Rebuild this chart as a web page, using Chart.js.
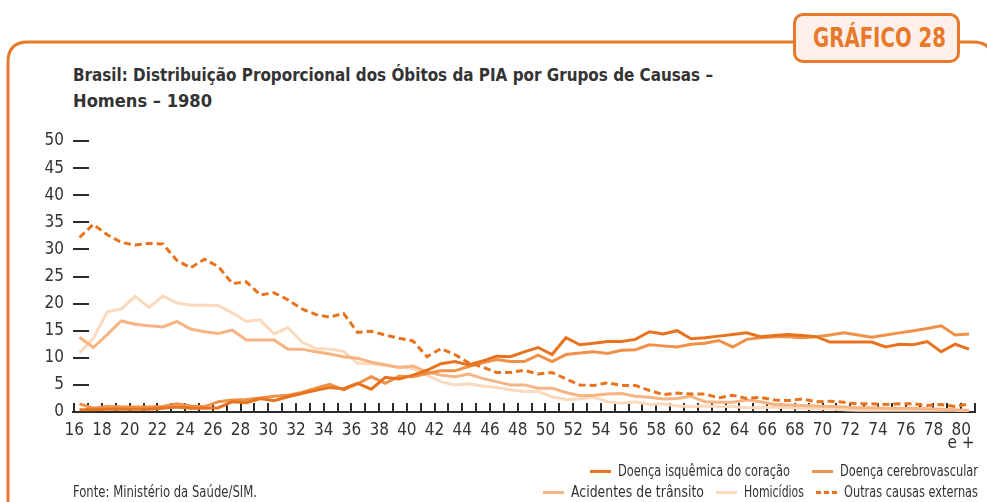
<!DOCTYPE html>
<html>
<head>
<meta charset="utf-8">
<script src="https://cdn.jsdelivr.net/npm/chart.js@4/dist/chart.umd.min.js"></script>
<style>
  html, body { margin:0; padding:0; background:#fff; }
  #wrap { position:relative; width:987px; height:502px; overflow:hidden; font-family:"DejaVu Sans Condensed","Liberation Sans Narrow",sans-serif; color:#333; }
  #frame { position:absolute; left:0; top:0; }
  #chartBox { position:absolute; left:0; top:0; width:987px; height:502px; }
  #badge { position:absolute; left:793px; top:13px; width:161px; height:44px; border:3px solid #e8782a; border-radius:10px; background:#fdf0ea; }
  #badgeText { position:absolute; left:17px; top:0; line-height:44px; color:#e8782a; font-weight:bold; font-size:27px; }
  .tline { position:absolute; left:73px; font-weight:bold; font-size:18px; line-height:22px; color:#333; }
  #fonte { position:absolute; left:73px; top:483px; font-size:15px; line-height:18px; color:#333; }
  .lrow { position:absolute; right:9px; display:flex; align-items:center; font-size:15px; line-height:18px; white-space:nowrap; }
  .item { display:flex; align-items:center; }
  .sw { width:21px; height:3px; margin-right:7px; }
  .fitOuter { display:inline-block; overflow:visible; white-space:nowrap; }
  .fitInner { display:inline-block; white-space:nowrap; transform-origin:left center; }
</style>
</head>
<body>
<div id="wrap">
  <svg id="frame" width="987" height="502">
    <path d="M 8 510 L 8 62 Q 8 42 28 42 L 793 42" fill="none" stroke="#e8782a" stroke-width="3"/>
    <path d="M 957 42 L 973 42 Q 993 42 993 62 L 993 510" fill="none" stroke="#e8782a" stroke-width="3"/>
  </svg>
  <div id="badge"><span id="badgeText" class="fitOuter"></span></div>
  <div class="tline" id="t1" style="top:64px"></div>
  <div class="tline" id="t2" style="top:90px"></div>
  <div id="chartBox"><canvas id="c"></canvas></div>
  <div class="lrow" id="row1" style="top:462px"></div>
  <div class="lrow" id="row2" style="top:483px"></div>
  <div id="fonte"></div>
</div>
<script>
// ---- data ----
const ages = [16,17,18,19,20,21,22,23,24,25,26,27,28,29,30,31,32,33,34,35,36,37,38,39,40,41,42,43,44,45,46,47,48,49,50,51,52,53,54,55,56,57,58,59,60,61,62,63,64,65,66,67,68,69,70,71,72,73,74,75,76,77,78,79,80];
const isquemica = [0.4,0.4,0.5,0.5,0.5,0.5,0.7,0.9,0.7,0.7,0.8,1.9,1.7,2.5,2.1,2.8,3.4,4.0,4.5,4.3,5.3,4.2,6.4,6.1,6.8,7.7,8.9,9.3,8.7,9.4,10.3,10.2,11.1,11.9,10.6,13.7,12.4,12.7,13.0,13.0,13.4,14.8,14.4,15.0,13.5,13.7,14.0,14.3,14.6,13.9,14.1,14.3,14.1,13.9,12.9,12.9,12.9,12.9,12.0,12.5,12.4,13.0,11.1,12.5,11.6];
const cerebro = [1.5,0.7,1.0,0.9,0.9,0.9,1.0,1.5,1.1,1.0,1.9,2.2,2.3,2.6,2.9,3.1,3.6,4.4,5.1,4.1,5.2,6.5,5.3,6.6,6.5,7.1,7.6,7.6,8.4,9.1,9.7,9.3,9.3,10.5,9.3,10.6,10.9,11.1,10.8,11.4,11.5,12.4,12.2,12.0,12.5,12.7,13.2,12.0,13.4,13.7,13.9,13.9,13.7,13.9,14.2,14.6,14.2,13.8,14.2,14.6,15.0,15.4,15.9,14.2,14.4];
const acidentes = [13.8,11.9,14.3,16.8,16.2,15.9,15.7,16.7,15.3,14.8,14.5,15.1,13.3,13.3,13.3,11.6,11.6,11.1,10.7,10.2,9.9,9.2,8.7,8.2,8.5,7.4,6.8,6.5,7.0,6.2,5.6,5.0,5.0,4.4,4.4,3.6,3.0,3.1,3.3,3.4,2.9,2.7,2.4,2.5,2.9,1.9,1.8,1.8,2.2,1.9,1.4,1.3,1.2,1.1,1.0,0.9,0.8,0.8,0.7,0.7,0.7,0.6,0.5,0.4,0.3];
const homicidios = [10.9,13.6,18.5,19.0,21.3,19.3,21.4,20.1,19.7,19.7,19.6,18.3,16.7,17.0,14.4,15.6,12.9,11.7,11.6,11.2,9.0,8.9,8.6,8.3,8.0,6.8,5.6,5.0,5.2,4.8,4.5,4.1,3.8,3.8,2.8,2.3,2.4,2.7,1.9,1.6,1.9,1.4,1.5,1.1,1.0,1.1,1.0,1.0,0.8,0.8,0.9,0.8,0.7,0.6,0.6,0.4,0.3,0.3,0.3,0.3,0.3,0.3,0.3,0.3,0.2];
const outras = [32.2,34.6,32.7,31.3,30.8,31.1,31.0,28.0,26.6,28.2,26.8,23.7,24.0,21.6,22.0,20.7,19.0,18.0,17.5,18.2,14.7,14.9,14.2,13.6,13.1,10.2,11.7,10.6,9.1,8.3,7.3,7.3,7.7,7.0,7.3,6.1,5.0,4.9,5.4,4.9,4.9,4.0,3.2,3.5,3.3,3.3,2.6,3.1,2.5,2.7,2.2,2.1,2.4,1.9,2.0,1.8,1.5,1.5,1.4,1.5,1.5,1.2,1.4,1.0,1.5];
const seriesNames = ['Doença isquêmica do coração','Doença cerebrovascular','Acidentes de trânsito','Homicídios','Outras causas externas'];
const yTicks = [0,5,10,15,20,25,30,35,40,45,50];
const xTickValues = [16,17,18,19,20,21,22,23,24,25,26,27,28,29,30,31,32,33,34,35,36,37,38,39,40,41,42,43,44,45,46,47,48,49,50,51,52,53,54,55,56,57,58,59,60,61,62,63,64,65,66,67,68,69,70,71,72,73,74,75,76,77,78,79,80,81];
const xTickLabel = v => (v === 80 ? ['80','e +'] : (v % 2 === 0 && v <= 80 ? String(v) : ''));
const titleLines = ['Brasil: Distribuição Proporcional dos Óbitos da PIA por Grupos de Causas –', 'Homens – 1980'];
const badgeLabel = 'GRÁFICO 28';
const sourceNote = 'Fonte: Ministério da Saúde/SIM.';

const colors = ['#e8731f','#f0914a','#f6b482','#fbd9bd','#e8731f'];
const dashes = [[],[],[],[],[7,4]];
const seriesData = [isquemica, cerebro, acidentes, homicidios, outras];
const drawOrder = [1,2,3,4,0];

const FONT = '"DejaVu Sans Condensed","Liberation Sans Narrow",sans-serif';

// text fitted to the reference's narrower typeface width
function fitted(text, target) {
  const outer = document.createElement('span');
  outer.className = 'fitOuter';
  const inner = document.createElement('span');
  inner.className = 'fitInner';
  inner.textContent = text;
  outer.appendChild(inner);
  outer._fit = () => {
    const w = inner.getBoundingClientRect().width;
    inner.style.transform = `scaleX(${target / w})`;
    outer.style.width = target + 'px';
  };
  return outer;
}
const toFit = [];
function place(parent, text, target) { const f = fitted(text, target); parent.appendChild(f); toFit.push(f); return f; }

place(document.getElementById('t1'), titleLines[0], 640);
place(document.getElementById('t2'), titleLines[1], 139);
place(document.getElementById('badgeText'), badgeLabel, 133);
place(document.getElementById('fonte'), sourceNote, 184);

const tickMarks = {
  id: 'tickMarks',
  beforeDatasetsDraw(chart) {
    const {ctx, chartArea, scales} = chart;
    ctx.save();
    ctx.strokeStyle = '#2b2b2b';
    ctx.lineWidth = 2;
    scales.y.ticks.forEach((t, i) => {
      if (t.value === 0) return;
      const y = Math.round(scales.y.getPixelForTick(i));
      ctx.beginPath(); ctx.moveTo(chartArea.left, y); ctx.lineTo(chartArea.left + 16, y); ctx.stroke();
    });
    scales.xt.ticks.forEach((t, i) => {
      const x = Math.round(scales.xt.getPixelForTick(i));
      ctx.beginPath(); ctx.moveTo(x, chartArea.bottom); ctx.lineTo(x, chartArea.bottom - 9); ctx.stroke();
    });
    ctx.restore();
  }
};

const datasets = seriesNames.map((name, k) => ({
  label: name,
  data: ages.map((a, i) => ({x: a, y: seriesData[k][i]})),
  borderColor: colors[k],
  backgroundColor: colors[k],
  borderWidth: 3,
  borderDash: dashes[k],
  pointRadius: 0,
  tension: 0,
  order: drawOrder[k],
  xAxisID: 'x',
  yAxisID: 'y'
}));

new Chart(document.getElementById('c'), {
  type: 'line',
  data: { datasets },
  options: {
    responsive: true,
    maintainAspectRatio: false,
    animation: false,
    events: [],
    layout: { padding: { left: 0, right: 10, top: 141, bottom: 50 } },
    plugins: { legend: { display: false }, tooltip: { enabled: false } },
    scales: {
      x: { type: 'linear', display: false, min: 15.533, max: 80.452 },
      xt: {
        type: 'linear', position: 'bottom', min: 15.906, max: 81.02,
        afterBuildTicks: s => { s.ticks = xTickValues.map(v => ({value: v})); },
        afterFit: s => { s.height = 40; },
        grid: { display: false, drawTicks: false },
        border: { display: true, color: '#2b2b2b', width: 2 },
        ticks: {
          autoSkip: false, maxRotation: 0, padding: 12,
          color: '#333',
          font: { family: FONT, size: 17, lineHeight: 0.78 },
          callback: v => xTickLabel(v)
        }
      },
      y: {
        min: 0, max: 50,
        afterBuildTicks: s => { s.ticks = yTicks.map(v => ({value: v})); },
        afterFit: s => { s.width = 73; },
        grid: { display: false, drawTicks: false },
        border: { display: false },
        ticks: { padding: 9, color: '#333', font: { family: FONT, size: 17 } }
      }
    }
  },
  plugins: [tickMarks]
});

// HTML legend built from the same series definitions
const rows = [[0,1],[2,3,4]];
const gaps = [22, 12];
const textWidths = [172, 138, 133, 60, 134];
rows.forEach((idxs, r) => {
  const row = document.getElementById('row' + (r + 1));
  idxs.forEach((k, j) => {
    const it = document.createElement('div');
    it.className = 'item';
    if (j > 0) it.style.marginLeft = gaps[r] + 'px';
    const sw = document.createElement('span');
    sw.className = 'sw';
    sw.style.background = dashes[k].length
      ? `repeating-linear-gradient(to right, ${colors[k]} 0 5px, transparent 5px 8px)`
      : colors[k];
    it.appendChild(sw);
    row.appendChild(it);
    place(it, seriesNames[k], textWidths[k]);
  });
});
toFit.forEach(f => f._fit());
</script>
</body>
</html>
